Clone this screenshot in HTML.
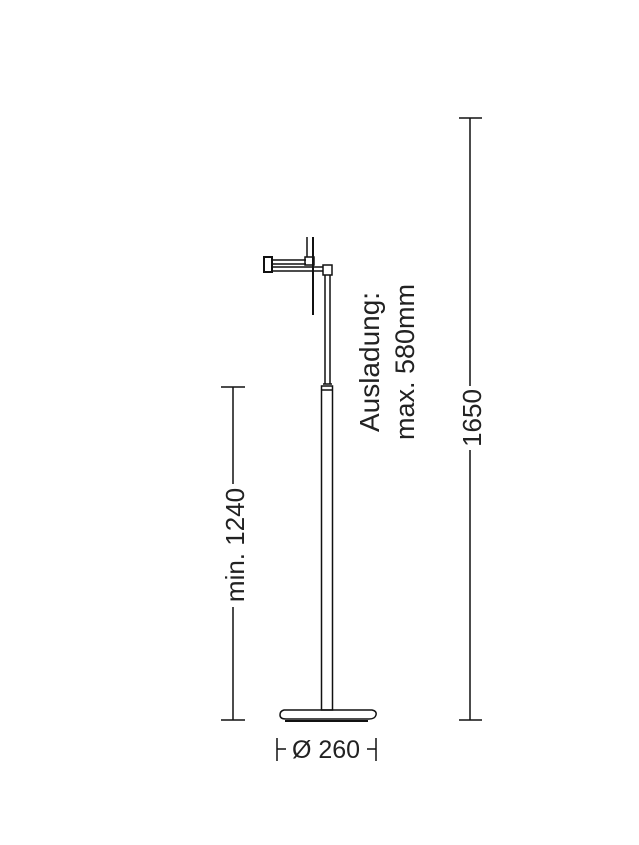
<!DOCTYPE html>
<html><head><meta charset="utf-8"><style>html,body{margin:0;padding:0;background:#fff}svg{display:block}</style></head>
<body>
<svg width="639" height="845" viewBox="0 0 639 845" xmlns="http://www.w3.org/2000/svg" font-family="Liberation Sans, sans-serif" fill="#222">
<g stroke="#111" fill="none" stroke-width="1.5">
<line x1="470" y1="118" x2="470" y2="386"/>
<line x1="470" y1="450" x2="470" y2="720"/>
<line x1="459" y1="118" x2="482" y2="118"/>
<line x1="459" y1="720" x2="482" y2="720"/>
<line x1="233" y1="387" x2="233" y2="484"/>
<line x1="233" y1="607" x2="233" y2="720"/>
<line x1="221" y1="387" x2="245" y2="387"/>
<line x1="221" y1="720" x2="245" y2="720"/>
<line x1="277" y1="738" x2="277" y2="761"/>
<line x1="376" y1="738" x2="376" y2="761"/>
<line x1="277" y1="749" x2="286" y2="749"/>
<line x1="367" y1="749" x2="376" y2="749"/>
<rect x="321.5" y="386" width="11" height="324"/>
<line x1="321" y1="390" x2="333" y2="390"/>
<line x1="325" y1="275" x2="325" y2="384"/>
<line x1="330" y1="275" x2="330" y2="384"/>
<line x1="323" y1="384" x2="332" y2="384"/>
<rect x="323" y="265" width="9" height="10"/>
<line x1="271" y1="260" x2="306" y2="260"/>
<line x1="271" y1="264" x2="306" y2="264"/>
<line x1="271" y1="267" x2="323" y2="267"/>
<line x1="271" y1="271" x2="323" y2="271"/>
<rect x="264" y="257" width="8" height="15" stroke-width="2"/>
<rect x="305" y="257" width="9" height="8"/>
<line x1="313" y1="237" x2="313" y2="315" stroke-width="2"/>
<line x1="307" y1="237" x2="307" y2="257"/>
<path d="M284 710 H372 Q377 711 376 715 Q375 719 369 719 H286 Q280 719 280 715 Q280 711 284 710 Z"/>
<line x1="285" y1="721" x2="368" y2="721" stroke-width="2"/>
</g>
<text x="0" y="0" font-size="26" text-anchor="middle" transform="translate(481,418) rotate(-90)">1650</text>
<text x="0" y="0" font-size="26" text-anchor="middle" transform="translate(244,545) rotate(-90)">min. 1240</text>
<text x="0" y="0" font-size="28" text-anchor="middle" transform="translate(379,362) rotate(-90)">Ausladung:</text>
<text x="0" y="0" font-size="27" text-anchor="middle" transform="translate(414,362) rotate(-90)">max. 580mm</text>
<text x="326" y="758" font-size="25" text-anchor="middle">Ø 260</text>
</svg>
</body></html>
